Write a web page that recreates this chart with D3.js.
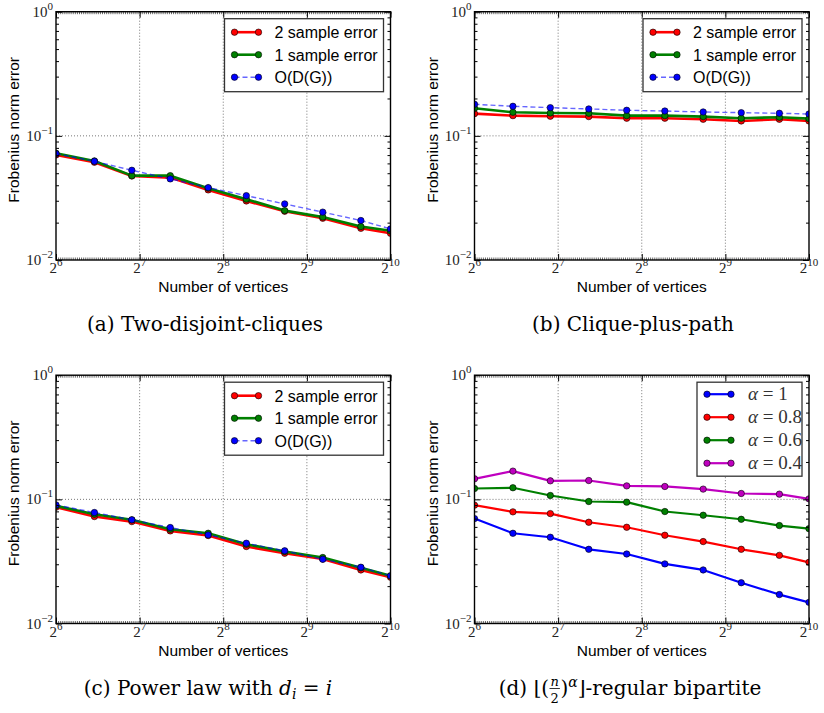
<!DOCTYPE html>
<html>
<head>
<meta charset="utf-8">
<script src="https://cdn.jsdelivr.net/npm/d3@7"></script>
<style>
  body { margin: 0; background: #fff; }
  svg { display: block; }
  .sans { font-family: "Liberation Sans", Arial, sans-serif; }
  .serif { font-family: "Liberation Serif", "Times New Roman", serif; }
  .cap { font-family: "DejaVu Serif", serif; }
</style>
</head>
<body>
<svg id="chart" width="824" height="713"></svg>
<script>
// number of vertices (log2 spaced from 2^6 to 2^10)
var vertices = [64, 88, 120, 165, 226, 310, 426, 584, 801, 1024];

// (a) Two-disjoint-cliques
var cliquesTwoSample = [0.0702, 0.0613, 0.0475, 0.0461, 0.0367, 0.0299, 0.0247, 0.0217, 0.0180, 0.0164];
var cliquesOneSample = [0.0724, 0.0628, 0.0478, 0.0478, 0.0379, 0.0309, 0.0250, 0.0222, 0.0186, 0.0172];
var cliquesBound     = [0.0719, 0.0624, 0.0528, 0.0450, 0.0383, 0.0330, 0.0283, 0.0243, 0.0208, 0.0178];

// (b) Clique-plus-path
var pathTwoSample = [0.151, 0.1455, 0.1439, 0.1429, 0.1387, 0.1387, 0.136, 0.1318, 0.136, 0.1318];
var pathOneSample = [0.1667, 0.1549, 0.1528, 0.152, 0.1455, 0.1455, 0.1429, 0.1387, 0.1413, 0.1376];
var pathBound     = [0.1795, 0.173, 0.1687, 0.1647, 0.1607, 0.1585, 0.1557, 0.1537, 0.152, 0.150];

// (c) Power law
var powerTwoSample = [0.0864, 0.0727, 0.0662, 0.0557, 0.0511, 0.0417, 0.0368, 0.0331, 0.0270, 0.0236];
var powerOneSample = [0.0886, 0.0759, 0.0684, 0.0574, 0.0533, 0.0435, 0.0380, 0.0340, 0.0281, 0.0242];
var powerBound     = [0.0902, 0.0783, 0.0684, 0.0593, 0.0517, 0.0443, 0.0385, 0.0329, 0.0284, 0.0242];

// (d) regular bipartite
var alpha10 = [0.0700, 0.0533, 0.0495, 0.0396, 0.0363, 0.0302, 0.0270, 0.0213, 0.0171, 0.0148];
var alpha08 = [0.0898, 0.0793, 0.0768, 0.0654, 0.0596, 0.0514, 0.0457, 0.0396, 0.0354, 0.0311];
var alpha06 = [0.1223, 0.1240, 0.1074, 0.0961, 0.0949, 0.0798, 0.0745, 0.0691, 0.0615, 0.0581];
var alpha04 = [0.1464, 0.1688, 0.1410, 0.1418, 0.1284, 0.1270, 0.1209, 0.1115, 0.1101, 0.1009];

// ticks
var xMajor = [64, 128, 256, 512, 1024];
var xExponents = ["6", "7", "8", "9", "10"];
var yMajor = [0.01, 0.1, 1];
var yExponents = ["\u22122", "\u22121", "0"];

var xLabel = "Number of vertices";
var yLabel = "Frobenius norm error";
var sampleLabels = ["2 sample error", "1 sample error", "O(D(G))"];
var alphaLabels = ["1", "0.8", "0.6", "0.4"];

var svg = d3.select("#chart");

var plotW = 334.5, plotH = 248.3;

function sampleSeries(two, one, bound) {
    return [
        {values: two, color: "#ff0000", width: 2.6, label: sampleLabels[0]},
        {values: one, color: "#008000", width: 2.6, label: sampleLabels[1]},
        {values: bound, color: "#0000ff", width: 1.4, dash: "5,3", opacity: 0.6, label: sampleLabels[2]}
    ];
}

var panels = [
    {left: 56, top: 11.7, series: sampleSeries(cliquesTwoSample, cliquesOneSample, cliquesBound),
     legend: {w: 159, h: 73, rowH: 22.5, first: 13.5}, caption: "a", capX: 205},
    {left: 474.5, top: 11.7, series: sampleSeries(pathTwoSample, pathOneSample, pathBound),
     legend: {w: 159, h: 73, rowH: 22.5, first: 13.5}, caption: "b", capX: 633},
    {left: 56, top: 375.2, series: sampleSeries(powerTwoSample, powerOneSample, powerBound),
     legend: {w: 159, h: 73, rowH: 22.5, first: 13.5}, caption: "c", capX: 208},
    {left: 474.5, top: 375.2, alpha: true,
     series: [
        {values: alpha10, color: "#0000ff", width: 2.2, label: alphaLabels[0]},
        {values: alpha08, color: "#ff0000", width: 2.2, label: alphaLabels[1]},
        {values: alpha06, color: "#008000", width: 2.2, label: alphaLabels[2]},
        {values: alpha04, color: "#bf00bf", width: 2.2, label: alphaLabels[3]}
     ],
     legend: {w: 105, h: 94, rowH: 23, first: 12}, caption: "d", capX: 630}
];

panels.forEach(drawPanel);

function drawPanel(p) {
    var g = svg.append("g"),
        x = d3.scaleLog().base(2).domain([64, 1024]).range([p.left, p.left + plotW]),
        y = d3.scaleLog().domain([0.01, 1]).range([p.top + plotH, p.top]),
        bottom = p.top + plotH,
        right = p.left + plotW;

    // grid
    g.selectAll(".gx").data(xMajor.slice(1, -1)).enter().append("line")
        .attr("x1", function (d) { return x(d); }).attr("x2", function (d) { return x(d); })
        .attr("y1", p.top).attr("y2", bottom)
        .attr("stroke", "#777").attr("stroke-width", 1).attr("stroke-dasharray", "1,2");
    g.selectAll(".gy").data([0.1]).enter().append("line")
        .attr("x1", p.left).attr("x2", right)
        .attr("y1", function (d) { return y(d); }).attr("y2", function (d) { return y(d); })
        .attr("stroke", "#777").attr("stroke-width", 1).attr("stroke-dasharray", "1,2");

    // series
    var line = d3.line()
        .x(function (d, i) { return x(vertices[i]); })
        .y(function (d) { return y(d); });

    var clip = "clip-" + p.caption;
    svg.append("clipPath").attr("id", clip).append("rect")
        .attr("x", p.left).attr("y", p.top).attr("width", plotW).attr("height", plotH);

    var sg = g.append("g").attr("clip-path", "url(#" + clip + ")");
    p.series.forEach(function (s) {
        sg.append("path")
            .datum(s.values)
            .attr("d", line)
            .attr("fill", "none")
            .attr("stroke", s.color)
            .attr("stroke-width", s.width)
            .attr("stroke-opacity", s.opacity || 1)
            .attr("stroke-dasharray", s.dash || null)
            .attr("stroke-linejoin", "round");
        sg.selectAll(null).data(s.values).enter().append("circle")
            .attr("cx", function (d, i) { return x(vertices[i]); })
            .attr("cy", function (d) { return y(d); })
            .attr("r", 3.2)
            .attr("fill", s.color)
            .attr("stroke", "#000").attr("stroke-width", 0.6);
    });

    // ticks (inward, on all sides)
    var xMinor = d3.range(0, 161).map(function (k) { return Math.pow(2, 6 + k / 40); });
    var yMinor = [];
    [0.01, 0.1].forEach(function (dec) { d3.range(2, 10).forEach(function (m) { yMinor.push(m * dec); }); });

    function tickAxis(axis, values, size, tx, ty, color) {
        var a = g.append("g").attr("transform", "translate(" + tx + "," + ty + ")")
            .call(axis.tickValues(values).tickSize(-size).tickFormat(""));
        a.select(".domain").remove();
        a.selectAll("line").attr("stroke", color || "#000").attr("stroke-width", 1);
    }
    tickAxis(d3.axisBottom(x), xMinor, 2.5, 0, bottom, "#666");
    tickAxis(d3.axisTop(x), xMinor, 2.5, 0, p.top, "#666");
    tickAxis(d3.axisBottom(x), xMajor, 6, 0, bottom);
    tickAxis(d3.axisTop(x), xMajor, 6, 0, p.top);
    tickAxis(d3.axisLeft(y), yMinor, 3, p.left, 0);
    tickAxis(d3.axisRight(y), yMinor, 3, right, 0);
    tickAxis(d3.axisLeft(y), yMajor, 6, p.left, 0);
    tickAxis(d3.axisRight(y), yMajor, 6, right, 0);

    // frame
    g.append("rect")
        .attr("x", p.left).attr("y", p.top).attr("width", plotW).attr("height", plotH)
        .attr("fill", "none").attr("stroke", "#000").attr("stroke-width", 1.4);

    // tick labels
    yMajor.forEach(function (v, i) {
        var t = g.append("text").attr("class", "serif")
            .attr("x", p.left - 3).attr("y", y(v) + 5)
            .attr("text-anchor", "end").attr("font-size", 15).attr("fill", "#222");
        t.append("tspan").text("10");
        t.append("tspan").attr("dy", -7).attr("font-size", 11).text(yExponents[i]);
    });
    xMajor.forEach(function (v, i) {
        var t = g.append("text").attr("class", "serif")
            .attr("x", x(v)).attr("y", bottom + 13)
            .attr("text-anchor", "middle").attr("font-size", 15).attr("fill", "#222");
        t.append("tspan").text("2");
        t.append("tspan").attr("dy", -7).attr("font-size", 11).text(xExponents[i]);
    });

    // axis titles
    g.append("text").attr("class", "sans")
        .attr("x", p.left + plotW / 2).attr("y", bottom + 32)
        .attr("text-anchor", "middle").attr("font-size", 15.5).text(xLabel);
    g.append("text").attr("class", "sans")
        .attr("transform", "translate(" + (p.left - 37) + "," + (p.top + plotH / 2 - 6) + ") rotate(-90)")
        .attr("text-anchor", "middle").attr("font-size", 15.5).text(yLabel);

    // legend
    var L = p.legend,
        lx = right - 7 - L.w,
        ly = p.top + 7;
    var lg = g.append("g").attr("transform", "translate(" + lx + "," + ly + ")");
    lg.append("rect").attr("width", L.w).attr("height", L.h)
        .attr("fill", "#fff").attr("stroke", "#333").attr("stroke-width", 1.3);
    p.series.forEach(function (s, i) {
        var ry = L.first + i * L.rowH,
            row = lg.append("g").attr("transform", "translate(0," + ry + ")");
        row.append("line").attr("x1", 10).attr("x2", 34).attr("y1", 0).attr("y2", 0)
            .attr("stroke", s.color).attr("stroke-width", s.width)
            .attr("stroke-opacity", s.opacity || 1)
            .attr("stroke-dasharray", s.dash || null);
        row.selectAll("circle").data([10, 34]).enter().append("circle")
            .attr("cx", function (d) { return d; }).attr("cy", 0).attr("r", 3.2)
            .attr("fill", s.color).attr("stroke", "#000").attr("stroke-width", 0.6);
        if (p.alpha) {
            var t = row.append("text").attr("class", "serif").attr("x", 51).attr("y", 6)
                .attr("font-size", 19).attr("fill", "#333");
            t.append("tspan").attr("font-style", "italic").text("\u03b1");
            t.append("tspan").text(" = " + s.label);
        } else {
            row.append("text").attr("class", "sans").attr("x", 50).attr("y", 6)
                .attr("font-size", 16).text(s.label);
        }
    });

    drawCaption(p, bottom + 71);
}

function drawCaption(p, baseY) {
    var size = 20;
    if (p.caption === "a" || p.caption === "b") {
        var txt = p.caption === "a" ? "(a) Two-disjoint-cliques" : "(b) Clique-plus-path";
        svg.append("text").attr("class", "cap").attr("x", p.capX).attr("y", baseY)
            .attr("text-anchor", "middle").attr("font-size", size).text(txt);
    } else if (p.caption === "c") {
        var t = svg.append("text").attr("class", "cap").attr("x", p.capX).attr("y", baseY)
            .attr("text-anchor", "middle").attr("font-size", size);
        t.append("tspan").text("(c) Power law with ");
        t.append("tspan").attr("font-style", "italic").text("d");
        t.append("tspan").attr("font-style", "italic").attr("font-size", 14).attr("dy", 4).text("i");
        t.append("tspan").attr("dy", -4).text(" = ");
        t.append("tspan").attr("font-style", "italic").text("i");
    } else {
        var cg = svg.append("g");
        var t1 = cg.append("text").attr("class", "cap").attr("y", baseY).attr("font-size", size)
            .text("(d) \u230a(");
        var fn = cg.append("text").attr("class", "cap").attr("y", baseY - 9).attr("font-size", 13)
            .attr("font-style", "italic").attr("text-anchor", "middle").text("n");
        var fd = cg.append("text").attr("class", "cap").attr("y", baseY + 8).attr("font-size", 13)
            .attr("text-anchor", "middle").text("2");
        var t2 = cg.append("text").attr("class", "cap").attr("y", baseY).attr("font-size", size);
        t2.append("tspan").text(")");
        t2.append("tspan").attr("dy", -8).attr("font-size", 14).attr("font-style", "italic").text("\u03b1");
        t2.append("tspan").attr("dy", 8).text("\u230b-regular bipartite");

        var w1 = t1.node().getComputedTextLength(),
            wf = Math.max(fn.node().getComputedTextLength(), fd.node().getComputedTextLength()) + 3,
            w2 = t2.node().getComputedTextLength(),
            x0 = p.capX - (w1 + wf + w2) / 2;
        t1.attr("x", x0);
        fn.attr("x", x0 + w1 + wf / 2);
        fd.attr("x", x0 + w1 + wf / 2);
        cg.append("line").attr("x1", x0 + w1 + 0.5).attr("x2", x0 + w1 + wf - 0.5)
            .attr("y1", baseY - 6).attr("y2", baseY - 6).attr("stroke", "#000").attr("stroke-width", 0.8);
        t2.attr("x", x0 + w1 + wf);
    }
}
</script>
</body>
</html>
